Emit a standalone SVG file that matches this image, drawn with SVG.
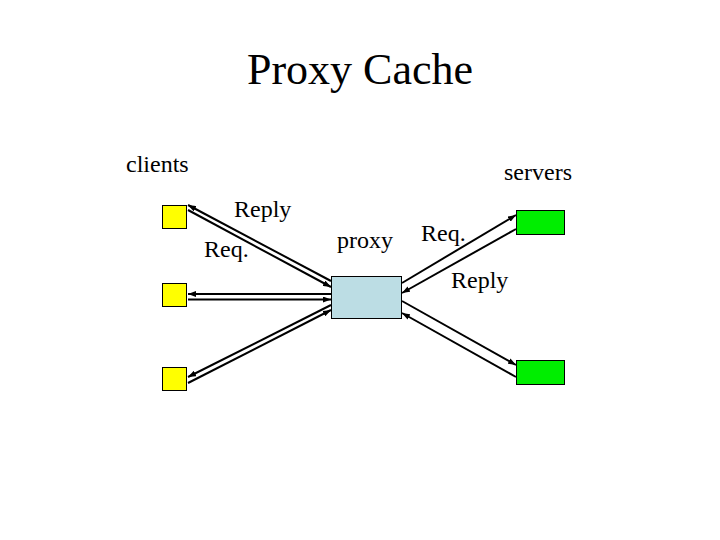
<svg xmlns="http://www.w3.org/2000/svg" width="720" height="540" viewBox="0 0 720 540">
<defs>
<marker id="ah" viewBox="0 0 8 6" refX="8" refY="3" markerWidth="8" markerHeight="6" markerUnits="userSpaceOnUse" orient="auto">
<path d="M0,0 L8,3 L0,6 z" fill="#000"/>
</marker>
</defs>
<style>
text{font-family:"Liberation Serif","Times New Roman",serif;fill:#000}
.lbl{font-size:24px}
.client{fill:#ffff00;stroke:#000;stroke-width:1}
.server{fill:#00ee00;stroke:#000;stroke-width:1}
.proxy{fill:#bcdde4;stroke:#000;stroke-width:1}
.c line{stroke:#000;stroke-width:2;marker-end:url(#ah)}
</style>
<rect width="720" height="540" fill="#fff"/>
<text x="360" y="84" font-size="44" text-anchor="middle">Proxy Cache</text>
<text class="lbl" x="126" y="172">clients</text>
<text class="lbl" x="504" y="180">servers</text>
<g id="client1"><rect class="client" x="162.5" y="205.5" width="24" height="23"/></g>
<g id="client2"><rect class="client" x="162.5" y="283.5" width="24" height="23"/></g>
<g id="client3"><rect class="client" x="162.5" y="367.5" width="24" height="23"/></g>
<g id="proxy"><rect class="proxy" x="331.5" y="276.5" width="70" height="42"/><text class="lbl" x="337" y="248">proxy</text></g>
<g id="server1"><rect class="server" x="516.5" y="210.5" width="48" height="24"/></g>
<g id="server2"><rect class="server" x="516.5" y="360.5" width="48" height="24"/></g>
<g id="connectors" class="c">
<line x1="331" y1="281" x2="188" y2="205"/>
<line x1="188" y1="210" x2="331" y2="287"/>
<line x1="331" y1="294" x2="188" y2="294"/>
<line x1="188" y1="299.5" x2="331" y2="299.5"/>
<line x1="331" y1="305" x2="188" y2="377"/>
<line x1="188" y1="383" x2="331" y2="310"/>
<line x1="402" y1="283" x2="516" y2="215"/>
<line x1="516" y1="229" x2="402" y2="293"/>
<line x1="402" y1="301" x2="516" y2="365"/>
<line x1="516" y1="377" x2="402" y2="313"/>
</g>
<text class="lbl" x="234" y="217">Reply</text>
<text class="lbl" x="204" y="257">Req.</text>
<text class="lbl" x="421" y="241">Req.</text>
<text class="lbl" x="451" y="288">Reply</text>
</svg>
